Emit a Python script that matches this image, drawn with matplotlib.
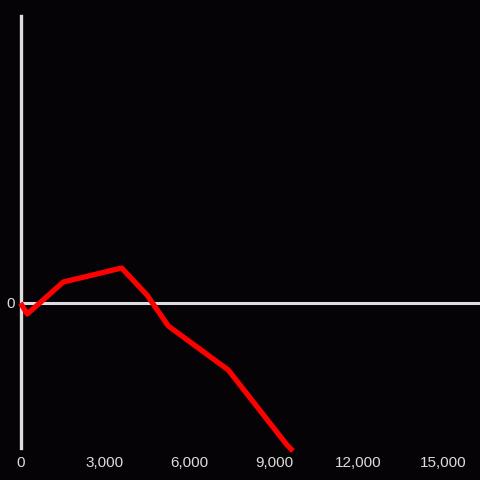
import matplotlib
matplotlib.use("Agg")
import matplotlib.pyplot as plt
from matplotlib.ticker import FuncFormatter

# values
x_vals = [0, 241, 1519, 3592, 4490, 5247, 7377, 9461, 9673]
y_vals = [0, -11, 21, 35, 8, -23, -67, -142, -148]
x_ticks = [0, 3000, 6000, 9000, 12000, 15000]
y_ticks = [0]

bg = '#050306'
fg = '#dddddd'

plt.rcParams['font.family'] = ['Liberation Sans', 'DejaVu Sans']

fig = plt.figure(figsize=(4.8, 4.8), dpi=100, facecolor=bg)
ax = fig.add_axes([20.5 / 480, 32 / 480, 1 - 20.5 / 480, 432 / 480])
ax.set_facecolor(bg)

ax.plot(x_vals, y_vals, color='#ff0000', linewidth=3.8,
        solid_joinstyle='round', solid_capstyle='butt', clip_on=False, zorder=3)
ax.axhline(0, color=fg, linewidth=2.2, zorder=2)

ax.set_xlim(0, 16312)
ax.set_ylim(-145, 287)

for side in ['top', 'right', 'bottom']:
    ax.spines[side].set_visible(False)
ax.spines['left'].set_color(fg)
ax.spines['left'].set_linewidth(2.4)

ax.set_xticks(x_ticks)
ax.set_yticks(y_ticks)
ax.xaxis.set_major_formatter(FuncFormatter(lambda v, p: f"{int(v):,}"))
ax.tick_params(axis='both', length=0, colors=fg, labelsize=11)
ax.tick_params(axis='x', pad=6)
ax.tick_params(axis='y', pad=4)

fig.savefig('out.png', dpi=100, facecolor=bg)
